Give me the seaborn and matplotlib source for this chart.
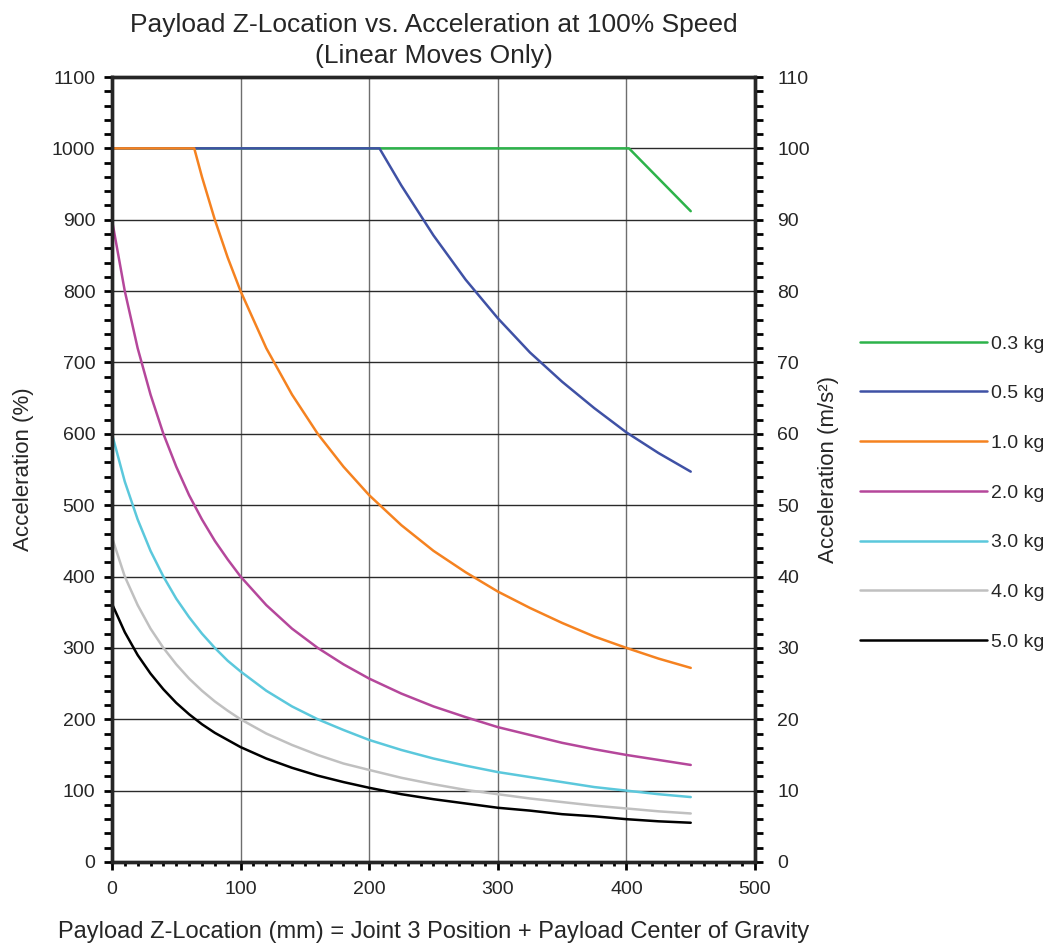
import matplotlib
matplotlib.use("Agg")
import matplotlib.pyplot as plt
from matplotlib.ticker import MultipleLocator
import seaborn as sns
import pandas as pd

# payload z-location (mm) sample points
x_common = [0, 10, 20, 30, 40, 50, 60, 70, 80, 90, 100, 120, 140, 160, 180,
            200, 225, 250, 275, 300, 325, 350, 375, 400, 425, 450]

x_03 = [0, 402, 426, 450]
acc_03 = [1000, 1000, 956, 912]

x_05 = [0, 208, 225, 250, 275, 300, 325, 350, 375, 400, 425, 450]
acc_05 = [1000, 1000, 948, 878, 816, 762, 714, 673, 636, 602, 573, 547]

x_10 = [0, 64, 70, 80, 90, 100, 120, 140, 160, 180, 200, 225, 250, 275, 300,
        325, 350, 375, 400, 425, 450]
acc_10 = [1000, 1000, 960, 900, 847, 800, 720, 655, 600, 554, 514, 472, 436,
          406, 379, 356, 335, 316, 300, 285, 272]

acc_20 = [900, 800, 720, 655, 600, 554, 514, 480, 450, 424, 400, 360, 327, 300,
          277, 257, 236, 218, 203, 189, 178, 167, 158, 150, 143, 136]
acc_30 = [600, 533, 480, 436, 400, 369, 343, 320, 300, 282, 267, 240, 218, 200,
          185, 171, 157, 145, 135, 126, 119, 112, 105, 100, 95, 91]
acc_40 = [455, 400, 360, 327, 300, 277, 257, 240, 225, 212, 200, 180, 164, 150,
          138, 129, 118, 109, 101, 95, 89, 84, 79, 75, 71, 68]
acc_50 = [362, 322, 290, 264, 242, 223, 207, 193, 181, 171, 161, 145, 132, 121,
          112, 104, 95, 88, 82, 76, 72, 67, 64, 60, 57, 55]

labels = ["0.3 kg", "0.5 kg", "1.0 kg", "2.0 kg", "3.0 kg", "4.0 kg", "5.0 kg"]
colors = ["#2db34a", "#3f51a5", "#f58220", "#b5479b", "#5bc8dc", "#c0c0c0", "#000000"]

series = [(x_03, acc_03), (x_05, acc_05), (x_10, acc_10), (x_common, acc_20),
          (x_common, acc_30), (x_common, acc_40), (x_common, acc_50)]
frames = []
for lab, (xs, ys) in zip(labels, series):
    frames.append(pd.DataFrame({"z": xs, "acc": ys, "payload": lab}))
df = pd.concat(frames, ignore_index=True)

sns.set_theme(style="white")
plt.rcParams["font.family"] = ["Liberation Sans", "DejaVu Sans"]

fig = plt.figure(figsize=(10.56, 9.46), dpi=100)
ax = fig.add_axes([0.106, 0.0888, 0.609, 0.8298])

sns.lineplot(data=df, x="z", y="acc", hue="payload", hue_order=labels,
             palette=colors, estimator=None, sort=False, linewidth=1.8, ax=ax)

ax.set_xlim(0, 500)
ax.set_ylim(0, 1100)
ax.xaxis.set_major_locator(MultipleLocator(100))
ax.xaxis.set_minor_locator(MultipleLocator(10))
ax.yaxis.set_major_locator(MultipleLocator(100))
ax.yaxis.set_minor_locator(MultipleLocator(20))

# grid: vertical grey, horizontal dark
ax.grid(False)
for gx in [100, 200, 300, 400]:
    ax.axvline(gx, color="#6e6e6e", lw=1.0, zorder=0)
for gy in range(100, 1100, 100):
    ax.axhline(gy, color="#2a2a2a", lw=1.0, zorder=0)

for sp in ax.spines.values():
    sp.set_linewidth(2.4)
    sp.set_color("black")

ax.tick_params(axis="y", which="both", direction="out", length=6, width=2,
               color="black", labelsize=14, pad=6, left=True)
ax.tick_params(axis="x", which="major", direction="out", length=6, width=2,
               color="black", labelsize=14, pad=8, bottom=True)
ax.tick_params(axis="x", which="minor", direction="out", length=3, width=2,
               color="black", bottom=True)

ax.set_xlabel("Payload Z-Location (mm) = Joint 3 Position + Payload Center of Gravity",
              fontsize=17, labelpad=16)
ax.set_ylabel("Acceleration (%)", fontsize=16, labelpad=13)
ax.set_title("Payload Z-Location vs. Acceleration at 100% Speed\n(Linear Moves Only)",
             fontsize=19, pad=10, linespacing=1.4)

ax2 = ax.twinx()
ax2.set_ylim(0, 110)
ax2.yaxis.set_major_locator(MultipleLocator(10))
ax2.yaxis.set_minor_locator(MultipleLocator(2))
ax2.tick_params(axis="y", which="both", direction="out", length=6, width=2,
                color="black", labelsize=14, pad=10, right=True)
for sp in ax2.spines.values():
    sp.set_linewidth(2.4)
ax2.set_ylabel("Acceleration (m/s²)", fontsize=16, labelpad=6)
ax2.grid(False)

handles, labs = ax.get_legend_handles_labels()
ax.get_legend().remove()
fig.legend(handles, labs, loc="center left", bbox_to_anchor=(0.798, 0.479),
           frameon=False, fontsize=14, handlelength=6.5, handletextpad=0.25,
           labelspacing=1.65)

fig.savefig("out.png", dpi=100)
